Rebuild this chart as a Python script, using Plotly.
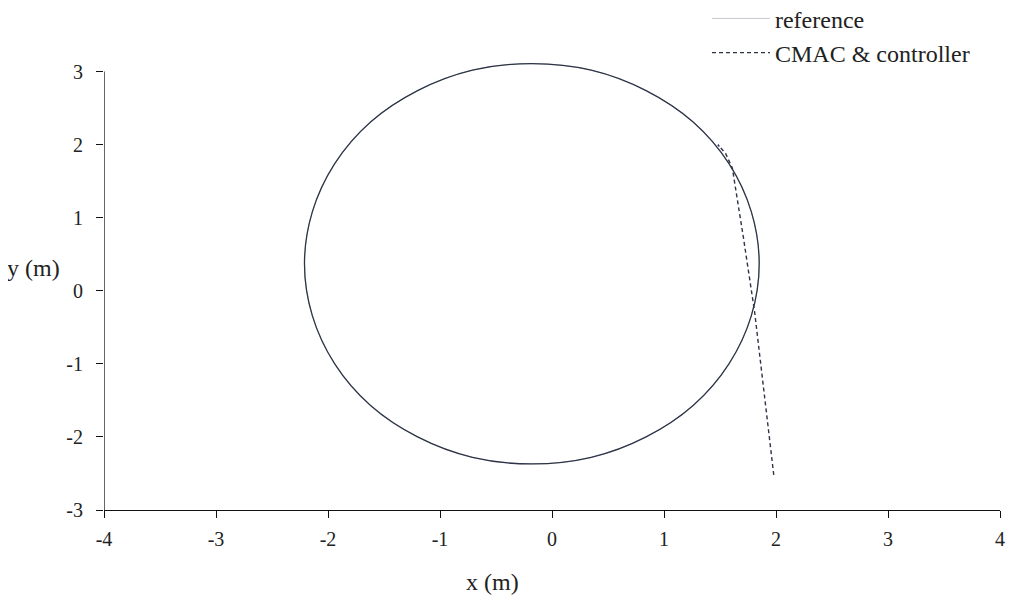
import plotly.graph_objects as go

# Reference circle trajectory (every 15 degrees)
ref_x = [1.85, 1.78, 1.58, 1.26, 0.84, 0.35, -0.18, -0.71, -1.20, -1.62, -1.94, -2.14, -2.21,
         -2.14, -1.94, -1.62, -1.20, -0.71, -0.18, 0.35, 0.84, 1.26, 1.58, 1.78, 1.85]
ref_y = [0.37, 1.08, 1.74, 2.31, 2.74, 3.02, 3.11, 3.02, 2.74, 2.31, 1.74, 1.08, 0.37,
         -0.34, -1.00, -1.57, -2.00, -2.28, -2.37, -2.28, -2.00, -1.57, -1.00, -0.34, 0.37]

# CMAC & controller: approach transient (dashed)
cmac_x = [1.98, 1.86, 1.81, 1.71, 1.61, 1.55, 1.48, 1.51]
cmac_y = [-2.52, -0.95, -0.30, 0.72, 1.68, 1.88, 2.00, 1.95]

# Tracked circle after convergence (overlaps the reference)
track_x = ref_x
track_y = ref_y

x_ticks = [-4, -3, -2, -1, 0, 1, 2, 3, 4]
y_ticks = [-3, -2, -1, 0, 1, 2, 3]

FONT = "Liberation Serif"
TXT = "#222222"
DARK = "#2c3446"

fig = go.Figure()
fig.add_trace(go.Scatter(x=ref_x, y=ref_y, mode="lines", name="reference",
                         line=dict(color="#c4c8cf", width=1.0, shape="spline", smoothing=1.0)))
fig.add_trace(go.Scatter(x=track_x, y=track_y, mode="lines", showlegend=False,
                         line=dict(color=DARK, width=1.3, shape="spline", smoothing=1.0),
                         hoverinfo="skip"))
fig.add_trace(go.Scatter(x=cmac_x, y=cmac_y, mode="lines", name="CMAC &amp; controller",
                         line=dict(color=DARK, width=1.4, dash="4px,3px")))

# page body has an 8px margin, so the figure is sized/offset to compensate
fig.update_layout(
    width=1005, height=587, autosize=False,
    margin=dict(l=95.5, r=13, t=49, b=85, autoexpand=False),
    plot_bgcolor="white", paper_bgcolor="white",
    font=dict(family=FONT, size=20, color=TXT),
    legend=dict(x=0.6955, y=1.134, xref="container", yref="paper",
                xanchor="left", yanchor="top", itemwidth=58,
                bgcolor="rgba(0,0,0,0)", font=dict(family=FONT, size=24, color=TXT),
                tracegroupgap=0),
    xaxis=dict(range=[-4, 4], tickvals=x_ticks, ticktext=[str(v) for v in x_ticks],
               showline=True, linecolor="#111111", linewidth=1.3, ticks="outside",
               ticklen=7, tickwidth=1.3, tickcolor="#111111", showgrid=False,
               zeroline=False, ticklabelstandoff=4, tickfont=dict(size=20)),
    yaxis=dict(range=[-3, 3.2], tickvals=y_ticks, ticktext=[str(v) for v in y_ticks],
               showline=False, ticks="outside",
               ticklen=7, tickwidth=1.3, tickcolor="#111111", showgrid=False,
               zeroline=False, ticklabelstandoff=9, tickfont=dict(size=20)),
    shapes=[dict(type="line", xref="x", yref="y", x0=-4, x1=-4, y0=-3, y1=3,
                 line=dict(color="#111111", width=1.3), layer="above")],
    annotations=[
        dict(text="x (m)", x=-0.53, y=-0.159, xref="x", yref="paper", showarrow=False,
             font=dict(family=FONT, size=24, color=TXT), xanchor="center", yanchor="middle"),
        dict(text="y (m)", x=-0.0786, y=0.313, xref="paper", yref="y", showarrow=False,
             font=dict(family=FONT, size=24, color=TXT), xanchor="center", yanchor="middle"),
    ],
)

fig.write_html("out.html")
